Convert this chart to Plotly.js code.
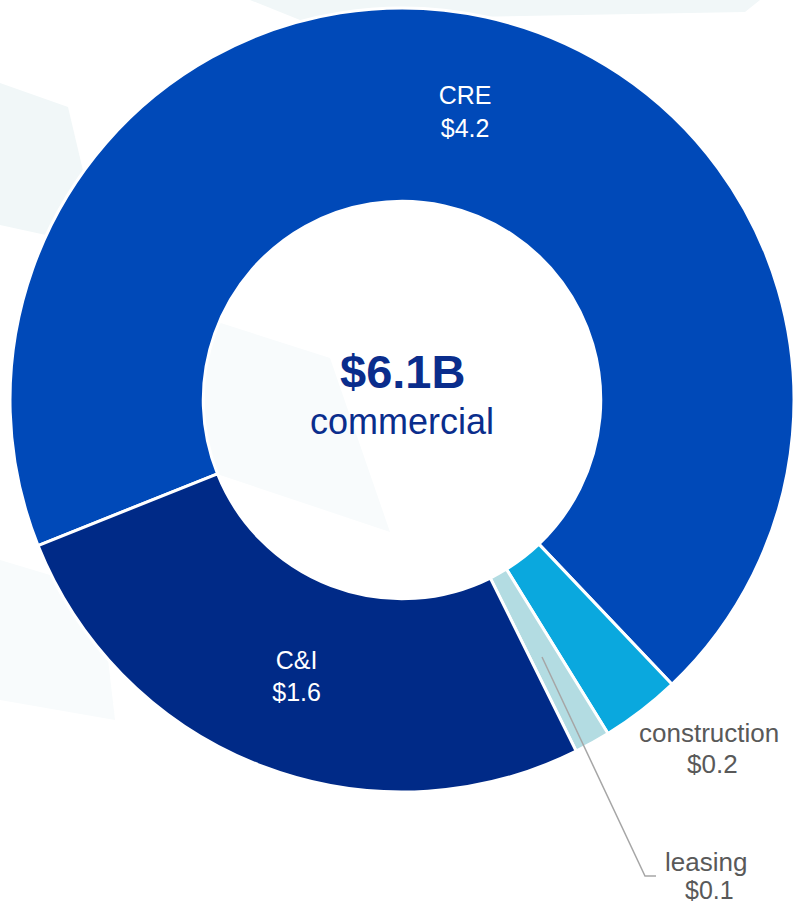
<!DOCTYPE html>
<html>
<head>
<meta charset="utf-8">
<script src="https://cdn.plot.ly/plotly-3.0.1.min.js"></script>
<style>html,body{margin:0;padding:0;background:#fff;}#chart{width:794px;height:906px;}</style>
</head>
<body>
<div id="chart"></div>
<script>
// ---- data ----
const categories = ['CRE', 'construction', 'leasing', 'C&I'];
const amounts = [4.2, 0.2, 0.09, 1.6];          // $B
const valueLabels = ['$4.2', '$0.2', '$0.1', '$1.6'];
const sliceColors = ['#0049B8', '#0AA8DE', '#B3DCE2', '#002A87'];
const totalLabel = '$6.1B';
const totalCaption = 'commercial';

const W = 794, H = 906;
const px = x => x / W;
const py = y => 1 - y / H;
const FONT = 'Liberation Sans, Arial, sans-serif';

const trace = {
  type: 'pie',
  labels: categories,
  values: amounts,
  text: valueLabels,
  sort: false,
  direction: 'clockwise',
  rotation: -111.8,
  hole: 0.507,
  domain: {x: [10 / W, 1], y: [1 - 792 / H, 1 - 8 / H]},
  marker: {colors: sliceColors, line: {color: '#ffffff', width: 3}},
  texttemplate: '%{label}<br>%{text}',
  textposition: ['inside', 'none', 'none', 'inside'],
  insidetextorientation: 'horizontal',
  textfont: {family: FONT, size: 25, color: '#ffffff'},
  hoverinfo: 'none',
  showlegend: false
};

const gray = '#595959';
const annotations = [
  {x: px(402), y: py(371), text: '<b>' + totalLabel + '</b>', font: {family: FONT, size: 47, color: '#0A2D8C'}},
  {x: px(402), y: py(422), text: totalCaption, font: {family: FONT, size: 36, color: '#0A2D8C'}},
  {x: px(709), y: py(733), text: categories[1], font: {family: FONT, size: 26, color: gray}},
  {x: px(712), y: py(764), text: valueLabels[1], font: {family: FONT, size: 26, color: gray}},
  {x: px(706), y: py(862), text: categories[2], font: {family: FONT, size: 26, color: gray}},
  {x: px(709), y: py(890), text: valueLabels[2], font: {family: FONT, size: 25, color: gray}}
].map(a => Object.assign({xref: 'paper', yref: 'paper', xanchor: 'center', yanchor: 'middle', showarrow: false}, a));

function poly(pts) {
  return 'M' + pts.map(p => px(p[0]) + ',' + py(p[1])).join(' L') + ' Z';
}

const shapes = [
  {type: 'path', layer: 'below', xref: 'paper', yref: 'paper', line: {width: 0}, fillcolor: '#F1F7F8',
   path: poly([[0, 83], [68, 107], [101, 247], [0, 225]])},
  {type: 'path', layer: 'below', xref: 'paper', yref: 'paper', line: {width: 0}, fillcolor: '#F1F7F8',
   path: poly([[250, 0], [760, 0], [745, 12], [300, 20]])},
  {type: 'path', layer: 'below', xref: 'paper', yref: 'paper', line: {width: 0}, fillcolor: '#F8FBFC',
   path: poly([[205, 318], [330, 358], [390, 532], [205, 470]])},
  {type: 'path', layer: 'below', xref: 'paper', yref: 'paper', line: {width: 0}, fillcolor: '#F8FBFC',
   path: poly([[0, 560], [100, 590], [115, 720], [0, 700]])},
  {type: 'path', layer: 'above', xref: 'paper', yref: 'paper', line: {color: '#A6A6A6', width: 1.5},
   path: 'M' + px(542) + ',' + py(657) + ' L' + px(645) + ',' + py(876) + ' L' + px(656) + ',' + py(876)}
];

const layout = {
  width: W, height: H,
  margin: {l: 0, r: 0, t: 0, b: 0, pad: 0},
  paper_bgcolor: '#ffffff',
  showlegend: false,
  font: {family: FONT},
  annotations: annotations,
  shapes: shapes
};

Plotly.newPlot('chart', [trace], layout, {staticPlot: true, displayModeBar: false});
</script>
</body>
</html>
